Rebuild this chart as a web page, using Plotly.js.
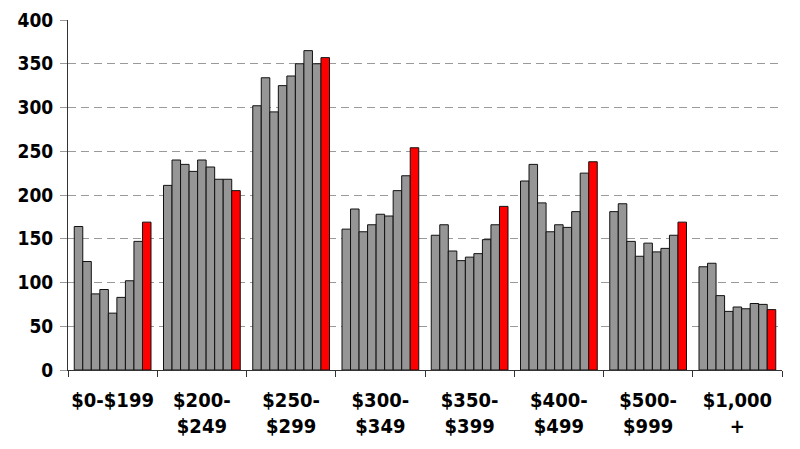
<!DOCTYPE html>
<html>
<head>
<meta charset="utf-8">
<script src="https://cdn.plot.ly/plotly-3.0.1.min.js"></script>
<style>
  html, body { margin: 0; padding: 0; background: #fff; }
  #chart { width: 800px; height: 449px; }
</style>
</head>
<body>
<div id="chart"></div>
<script>
// price bands along the bottom
const categories = ['$0-$199', '$200-<br>$249', '$250-<br>$299', '$300-<br>$349',
                    '$350-<br>$399', '$400-<br>$499', '$500-<br>$999', '$1,000<br>+'];

// one array per bar position inside each band (last one is the red bar)
const s1 = [164, 211, 302, 161, 154, 216, 181, 118];
const s2 = [124, 240, 334, 184, 166, 235, 190, 122];
const s3 = [87, 235, 295, 158, 136, 191, 147, 85];
const s4 = [92, 227, 325, 166, 125, 158, 130, 67];
const s5 = [65, 240, 336, 178, 129, 166, 145, 72];
const s6 = [83, 232, 350, 176, 133, 163, 135, 70];
const s7 = [102, 218, 365, 205, 149, 181, 139, 76];
const s8 = [147, 218, 350, 222, 166, 225, 154, 75];
const latest = [169, 205, 357, 254, 187, 238, 169, 69];

const greySeries = [s1, s2, s3, s4, s5, s6, s7, s8];

let data = greySeries.map(function (vals, i) {
    return {
        x: categories,
        y: vals,
        type: 'bar',
        name: 'series ' + (i + 1),
        marker: { color: '#969696', line: { color: '#111', width: 1 } }
    };
});
data.push({
    x: categories,
    y: latest,
    type: 'bar',
    name: 'latest',
    marker: { color: '#ff0000', line: { color: '#111', width: 1 } }
});

const tickFont = {
    family: 'DejaVu Sans Condensed, DejaVu Sans, sans-serif',
    size: 19,
    color: '#000',
    weight: 'bold'
};

let layout = {
    width: 800,
    height: 449,
    margin: { l: 68, r: 18, t: 20, b: 79 },
    paper_bgcolor: '#fff',
    plot_bgcolor: '#fff',
    showlegend: false,
    barmode: 'group',
    bargap: 0.14,
    bargroupgap: 0,
    xaxis: {
        type: 'category',
        showline: true,
        linecolor: '#333',
        linewidth: 1,
        ticks: 'outside',
        tickson: 'boundaries',
        ticklen: 6,
        tickcolor: '#333',
        tickangle: 0,
        tickfont: Object.assign({}, tickFont, { size: 20 }),
        showgrid: false,
        ticklabelstandoff: 12
    },
    yaxis: {
        range: [0, 400],
        dtick: 50,
        showline: true,
        linecolor: '#333',
        linewidth: 1,
        ticks: 'outside',
        ticklen: 7,
        tickcolor: '#999',
        tickfont: tickFont,
        showgrid: true,
        gridcolor: '#9a9a9a',
        griddash: '8px,5px',
        gridwidth: 1,
        zeroline: false,
        ticklabelstandoff: 3
    }
};

Plotly.newPlot('chart', data, layout, { displayModeBar: false, staticPlot: true });
</script>
</body>
</html>
